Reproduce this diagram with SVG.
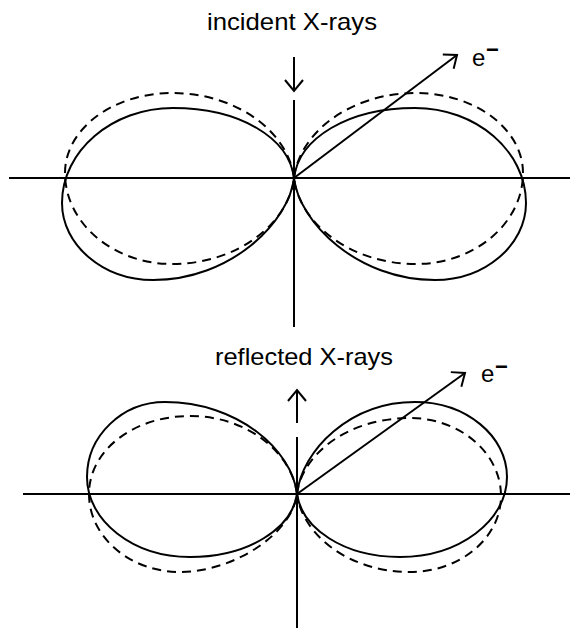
<svg xmlns="http://www.w3.org/2000/svg" width="570" height="628" viewBox="0 0 570 628">
<style>
  .ax{stroke:#000;stroke-width:2;fill:none}
  .sol{stroke:#000;stroke-width:2;fill:none}
  .dsh{stroke:#000;stroke-width:2;fill:none;stroke-dasharray:9 6}
  .arr{stroke:#000;stroke-width:2;fill:none;marker-end:url(#ah)}
  .lbl{font-family:"Liberation Sans",Arial,Helvetica,sans-serif;font-size:24px;fill:#000}
</style>
<defs>
  <marker id="ah" markerWidth="26" markerHeight="26" refX="13" refY="13" orient="auto" markerUnits="userSpaceOnUse" viewBox="0 0 26 26">
    <path d="M2,4 L13,13 L2,22" fill="none" stroke="#000" stroke-width="2"/>
  </marker>
</defs>
<rect width="570" height="628" fill="#fff"/>

<g id="top-diagram">
  <g id="top-axes">
    <line class="ax" x1="9" y1="178" x2="570" y2="178"/>
    <line class="ax" x1="294" y1="100" x2="294" y2="327"/>
  </g>
  <g id="top-lobes">
    <path class="sol" d="M294,178 C289,138 240,108 173,108 C112,108 62,151 62,203 C62,245 103,280 153,280 C231,280 289,222 294,178 Z"/>
    <path class="sol" d="M294,178 C299,138 348,108 415,108 C476,108 526,151 526,203 C526,245 485,280 435,280 C357,280 299,222 294,178 Z"/>
    <path class="dsh" d="M294,178 C289,134 239,93 172,93 C113,93 65,129 65,173 C65,223 113,264 172,264 C239,264 289,222 294,178 Z"/>
    <path class="dsh" d="M294,178 C299,134 349,93 416,93 C475,93 523,129 523,173 C523,223 475,264 416,264 C349,264 299,222 294,178 Z"/>
  </g>
  <g id="top-label">
    <text class="lbl" x="207" y="30" textLength="170" lengthAdjust="spacingAndGlyphs">incident X-rays</text>
  </g>
  <g id="top-electron-label">
    <text class="lbl" x="472" y="66">e<tspan x="486" y="57" font-weight="bold" font-size="22">−</tspan></text>
  </g>
</g>

<g id="bottom-diagram">
  <g id="bottom-axes">
    <line class="ax" x1="23" y1="494" x2="570" y2="494"/>
    <line class="ax" x1="297" y1="437" x2="297" y2="628"/>
  </g>
  <g id="bottom-lobes">
    <path class="sol" d="M297,494 C292,450 238,402 165,402 C122,402 87,436 87,477 C87,521 133,557 190,557 C249,557 292,528 297,494 Z"/>
    <path class="sol" d="M297,494 C302,450 350,402 415,402 C466,402 507,436 507,477 C507,521 459,557 400,557 C343,557 302,528 297,494 Z"/>
    <path class="dsh" d="M297,494 C292,454 249,416 190,416 C134,416 89,450 89,494 C89,537 130,572 180,572 C233,572 292,534 297,494 Z"/>
    <path class="dsh" d="M297,494 C302,454 348,418 410,418 C460,418 501,453 501,496 C501,538 460,572 410,572 C348,572 302,534 297,494 Z"/>
  </g>
  <g id="bottom-label">
    <text class="lbl" x="215" y="365" textLength="178" lengthAdjust="spacingAndGlyphs">reflected X-rays</text>
  </g>
  <g id="bottom-electron-label">
    <text class="lbl" x="481" y="382">e<tspan x="495" y="374" font-weight="bold" font-size="22">−</tspan></text>
  </g>
</g>

<g id="connectors">
  <line class="arr" x1="294" y1="57" x2="294" y2="91"/>
  <line class="arr" x1="294" y1="178" x2="457" y2="55"/>
  <line class="arr" x1="297" y1="423" x2="297" y2="390"/>
  <line class="arr" x1="297" y1="494" x2="465" y2="373"/>
</g>
</svg>
